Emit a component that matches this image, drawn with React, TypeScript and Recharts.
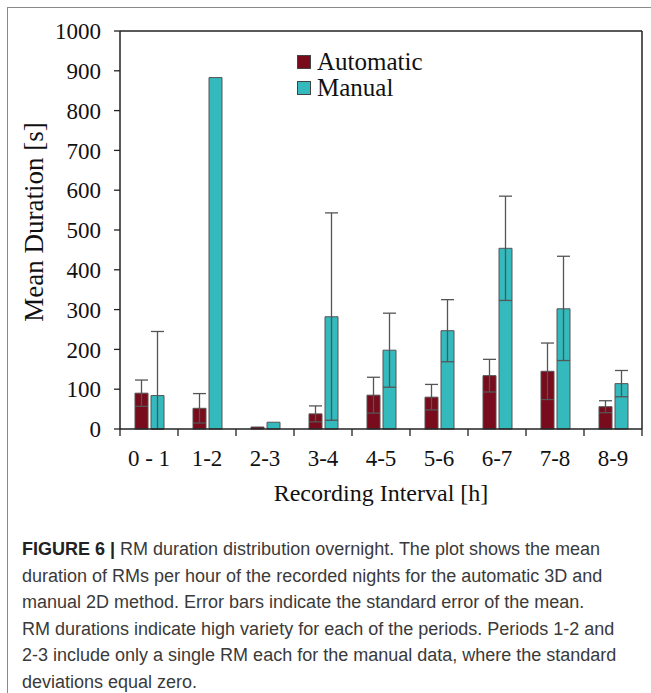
import React from 'react';
import { BarChart, Bar, XAxis, YAxis, ErrorBar } from 'recharts';

const categories = ['0 - 1', '1-2', '2-3', '3-4', '4-5', '5-6', '6-7', '7-8', '8-9'];
const automatic = [90, 52, 5, 38, 85, 80, 134, 145, 56];
const automaticErr = [33, 37, null, 20, 45, 32, 41, 71, 15];
const manual = [84, 883, 17, 282, 198, 247, 454, 302, 114];
const manualErrLow = [84, null, null, 260, 93, 78, 131, 130, 33];
const manualErrHigh = [161, null, null, 261, 93, 78, 131, 132, 33];
const yTicks = [0, 100, 200, 300, 400, 500, 600, 700, 800, 900, 1000];
const seriesNames = ['Automatic', 'Manual'];

const captionLines = [
  'RM duration distribution overnight. The plot shows the mean',
  'duration of RMs per hour of the recorded nights for the automatic 3D and',
  'manual 2D method. Error bars indicate the standard error of the mean.',
  'RM durations indicate high variety for each of the periods. Periods 1-2 and',
  '2-3 include only a single RM each for the manual data, where the standard',
  'deviations equal zero.',
];

const data = categories.map((c, i) => ({
  cat: c,
  automatic: automatic[i],
  autoErr: automaticErr[i] == null ? null : [automaticErr[i], automaticErr[i]],
  manual: manual[i],
  manErr: manualErrLow[i] == null ? null : [manualErrLow[i], manualErrHigh[i]],
}));

const SERIF = '"Liberation Serif", "Times New Roman", serif';
const AUTO_COLOR = '#780b1c';
const MAN_COLOR = '#34b9bd';

function XTick(props: any) {
  const { x, y, payload, index, visibleTicksCount } = props;
  const off = payload && payload.offset != null ? payload.offset : 29;
  return (
    <g>
      <line x1={x - off} x2={x - off} y1={y} y2={y + 7} stroke="#222" strokeWidth={1.3} />
      {index === visibleTicksCount - 1 ? (
        <line x1={x + off} x2={x + off} y1={y} y2={y + 7} stroke="#222" strokeWidth={1.3} />
      ) : null}
      <text x={x} y={y + 37} textAnchor="middle" fontFamily={SERIF} fontSize={23} fill="#111">
        {payload.value}
      </text>
    </g>
  );
}

function LegendBox() {
  const colors = [AUTO_COLOR, MAN_COLOR];
  return (
    <div style={{ position: 'absolute', left: 297, top: 49, fontFamily: SERIF, fontSize: 25, color: '#111', lineHeight: '26px' }}>
      {seriesNames.map((name, i) => (
        <div key={name} style={{ display: 'flex', alignItems: 'center', height: 26 }}>
          <span
            style={{
              display: 'inline-block',
              width: 12,
              height: 12,
              background: colors[i],
              border: '1px solid #444',
              marginRight: 6,
            }}
          />
          <span>{name}</span>
        </div>
      ))}
    </div>
  );
}

export default function App() {
  return (
    <div style={{ position: 'absolute', left: 0, top: 0, width: 651, height: 693, background: '#fff', overflow: 'hidden' }}>
      <div
        style={{
          position: 'absolute',
          left: 7,
          top: 7,
          right: -2,
          bottom: -2,
          borderLeft: '1px solid #8a8a8a',
          borderTop: '1px solid #8a8a8a',
        }}
      />
      <div style={{ position: 'absolute', left: 0, top: 0 }}>
        <BarChart
          width={651}
          height={520}
          data={data}
          margin={{ top: 30, right: 8, bottom: 0, left: 0 }}
          barSize={13}
          barGap={3}
        >
          <XAxis
            dataKey="cat"
            height={91}
            tickLine={false}
            tickSize={0}
            tickMargin={0}
            interval={0}
            axisLine={{ stroke: '#222', strokeWidth: 1.5 }}
            tick={<XTick />}
            label={(p: any) => {
              const vb = p.viewBox || { x: 120, y: 429, width: 522 };
              return (
                <text x={vb.x + vb.width / 2} y={vb.y + 72} textAnchor="middle" fontFamily={SERIF} fontSize={24} fill="#111">
                  Recording Interval [h]
                </text>
              );
            }}
          />
          <XAxis xAxisId="top" dataKey="cat" orientation="top" height={1} tick={false} tickLine={false} axisLine={{ stroke: '#222', strokeWidth: 1.5 }} />
          <YAxis
            width={120}
            domain={[0, 1000]}
            ticks={yTicks}
            interval={0}
            tickSize={6}
            tickMargin={13}
            axisLine={{ stroke: '#222', strokeWidth: 1.5 }}
            tickLine={{ stroke: '#222', strokeWidth: 1.3 }}
            tick={{ fontFamily: SERIF, fontSize: 23, fill: '#111' }}
            label={(p: any) => {
              const vb = p.viewBox || { x: 0, y: 31, width: 120, height: 398 };
              const cx = 34;
              const cy = vb.y + vb.height / 2 - 8;
              return (
                <text
                  x={cx}
                  y={cy}
                  transform={`rotate(-90 ${cx} ${cy})`}
                  textAnchor="middle"
                  dominantBaseline="central"
                  fontFamily={SERIF}
                  fontSize={27}
                  fill="#111"
                >
                  Mean Duration [s]
                </text>
              );
            }}
          />
          <YAxis yAxisId="right" orientation="right" width={1} domain={[0, 1000]} tick={false} tickLine={false} axisLine={{ stroke: '#222', strokeWidth: 1.5 }} />
          <Bar dataKey="automatic" name="Automatic" fill={AUTO_COLOR} stroke="#555" strokeWidth={1} isAnimationActive={false}>
            <ErrorBar dataKey="autoErr" width={6.5} stroke="#555" strokeWidth={1.3} direction="y" />
          </Bar>
          <Bar dataKey="manual" name="Manual" fill={MAN_COLOR} stroke="#555" strokeWidth={1} isAnimationActive={false}>
            <ErrorBar dataKey="manErr" width={6.5} stroke="#555" strokeWidth={1.3} direction="y" />
          </Bar>
        </BarChart>
      </div>
      <LegendBox />
      <div
        style={{
          position: 'absolute',
          left: 22,
          top: 536,
          fontFamily: '"Liberation Sans Narrow", "Liberation Sans", Arial, sans-serif',
          fontSize: 18,
          lineHeight: '26.6px',
          color: '#3a3a3a',
          whiteSpace: 'nowrap',
        }}
      >
        {captionLines.map((line, i) => (
          <div key={i}>
            {i === 0 ? <b style={{ color: '#222' }}>FIGURE 6 | </b> : null}
            {line}
          </div>
        ))}
      </div>
    </div>
  );
}
